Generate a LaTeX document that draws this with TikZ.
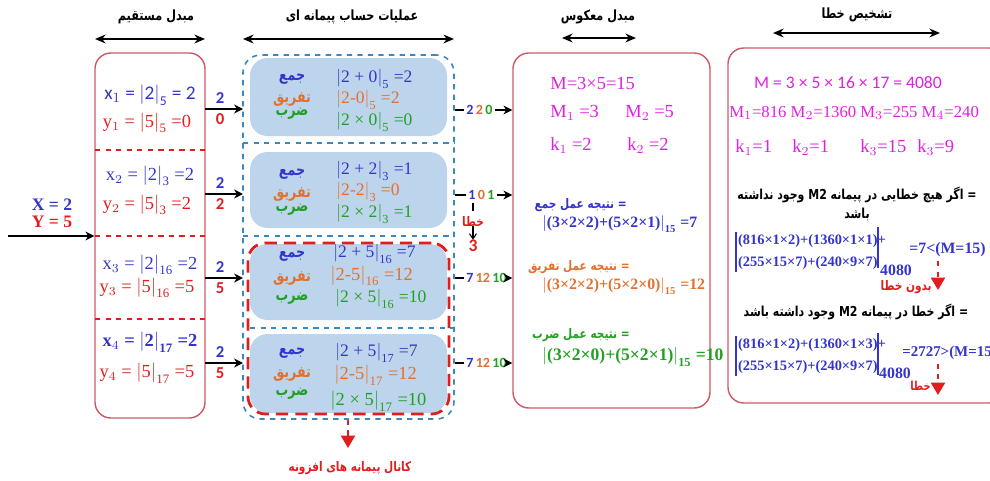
\documentclass[tikz,border=0pt]{standalone}
\usepackage{fontspec}
\usepackage{amsmath}
\setmainfont{Liberation Serif}
\newfontfamily\arf[Script=Arabic,FakeStretch=0.8]{DejaVu Sans}
\newfontfamily\cbr{Carlito}
\TeXXeTstate=1
\usetikzlibrary{arrows.meta,fit}
\definecolor{cblue}{HTML}{3434CC}
\definecolor{corange}{HTML}{E2702E}
\definecolor{cgreen}{HTML}{22A022}
\definecolor{cred}{HTML}{E01E1E}
\definecolor{cmag}{HTML}{E020E0}
\definecolor{boxred}{HTML}{CC5A66}
\definecolor{dblue}{HTML}{3A88C0}
\definecolor{lblue}{HTML}{BCD4EC}
\newcommand{\ab}[2]{$\left|\text{#1}\right|_{\text{#2}}$}
\begin{document}
\begin{tikzpicture}[x=0.02cm,y=-0.02cm,
  arr/.style={-{Stealth[length=5pt,width=5pt,inset=1.5pt]},line width=0.9pt},
  hdr/.style={{Stealth[length=6pt,width=5pt]}-{Stealth[length=6pt,width=5pt]},line width=1.1pt},
  bigbox/.style={draw=boxred,line width=0.8pt,rounded corners=9pt,inner sep=0pt},
  lbox/.style={fill=lblue,rounded corners=10pt,inner sep=0pt},
  sep/.style={cred,dashed,line width=0.8pt},
  bsep/.style={dblue,dashed,line width=0.9pt},
  hdrtxt/.style={font=\arf\bfseries\fontsize{8}{10}\selectfont},
  arlab/.style={font=\arf\bfseries\fontsize{9}{10}\selectfont},
  eqm/.style={font=\fontsize{10}{11}\selectfont,anchor=west,inner sep=0pt},
  lt/.style={font=\fontsize{10.5}{12}\selectfont,inner sep=0pt},
  num/.style={font=\cbr\bfseries\fontsize{9.5}{10}\selectfont,inner sep=1pt},
  onum/.style={font=\cbr\bfseries\fontsize{8}{9}\selectfont,inner sep=0pt},
  mg/.style={font=\fontsize{10.5}{12}\selectfont,text=cmag,inner sep=0pt},
  res/.style={font=\bfseries\fontsize{9}{10}\selectfont,anchor=west,inner sep=0pt},
  reslab/.style={font=\arf\bfseries\fontsize{7.5}{9}\selectfont,anchor=east,inner sep=0pt},
  cond/.style={font=\arf\bfseries\fontsize{7.8}{9}\selectfont,inner sep=0pt},
  errar/.style={cred,dashed,line width=1.1pt,-{Triangle[length=7pt,width=8pt]}},
  mat/.style={font=\bfseries\fontsize{8.2}{13}\selectfont,align=left,anchor=west,inner sep=1pt,text=cblue}
]
\useasboundingbox (0,0) rectangle (990,480);

% ---------- headers ----------
\node[hdrtxt] (h1) at (156,17) {\beginR مبدل مستقیم\endR};
\node[hdrtxt] (h2) at (352,17) {\beginR عملیات حساب پیمانه ای\endR};
\node[hdrtxt] (h3) at (598,17) {\beginR مبدل معکوس\endR};
\node[hdrtxt] (h4) at (857,15) {\beginR تشخیص خطا\endR};
\coordinate (h1a) at (95,39);  \coordinate (h1b) at (205,39);
\coordinate (h2a) at (243,39); \coordinate (h2b) at (454,39);
\coordinate (h3a) at (562,38); \coordinate (h3b) at (636,38);
\coordinate (h4a) at (773,33); \coordinate (h4b) at (940,33);
\draw[hdr] (h1a) -- (h1b);
\draw[hdr] (h2a) -- (h2b);
\draw[hdr] (h3a) -- (h3b);
\draw[hdr] (h4a) -- (h4b);

% ---------- input ----------
\node[font=\bfseries\fontsize{10}{11}\selectfont,text=cblue,inner sep=0pt] (X) at (52,205) {X = 2};
\node[font=\bfseries\fontsize{10}{11}\selectfont,text=cred,inner sep=0pt] (Y) at (52,222) {Y = 5};

% ---------- forward converter ----------
\node[bigbox,fit={(95,53) (205,418)}] (LB) {};
\coordinate (in0) at (8,236);
\draw[arr,line width=1.3pt] (in0) -- (LB.west |- in0);
\draw[sep] (95,150) -- (205,150);
\draw[sep] (95,236) -- (205,236);
\draw[sep] (95,319) -- (205,319);

\node[lt,text=cblue,font=\cbr\fontsize{11}{12}\selectfont] (x1) at (150,95) {x$_1$ = \ab{2}{5} = 2};
\node[lt,text=cred] (y1) at (147,123) {y$_1$ = \ab{5}{5} =0};
\node[lt,text=cblue] (x2) at (150,176) {x$_2$ = \ab{2}{3} =2};
\node[lt,text=cred] (y2) at (147,205) {y$_2$ = \ab{5}{3} =2};
\node[lt,text=cblue] (x3) at (150,265) {x$_3$ = \ab{2}{16} =2};
\node[lt,text=cred] (y3) at (147,288) {y$_3$ = \ab{5}{16} =5};
\node[lt,text=cblue,font=\bfseries\fontsize{10.5}{12}\selectfont] (x4) at (150,342) {x$_4$ = \ab{2}{17} =2};
\node[lt,text=cred] (y4) at (147,373) {y$_4$ = \ab{5}{17} =5};

% ---------- modular arithmetic ----------
\node[lbox,fit={(250,58) (447,136)}] (r1) {};
\node[lbox,fit={(250,152) (447,228)}] (r2) {};
\node[lbox,fit={(250,244) (447,320)}] (r3) {};
\node[lbox,fit={(250,334) (447,413)}] (r4) {};
\node[draw=dblue,dashed,line width=0.9pt,rounded corners=10pt,inner sep=0pt,fit={(243,55) (454,419)}] (MB) {};
\draw[bsep] (243,143) -- (454,143);
\draw[bsep] (243,236) -- (454,236);
\draw[bsep] (250,328) -- (454,328);
\node[draw=cred,dashed,dash pattern=on 7pt off 4pt,line width=1.6pt,rounded corners=10pt,inner sep=0pt,fit={(248,243) (449,414)}] (RB) {};

% row labels
\foreach \r/\ya/\yb/\yc in {1/79/99/114, 2/174/194/210, 3/256/278/299, 4/353/374/394}{
  \node[arlab,text=cblue] (add\r) at (292,\ya) {\beginR جمع\endR};
  \node[arlab,text=corange] (sub\r) at (292,\yb) {\beginR تفریق\endR};
  \node[arlab,text=cgreen] (mul\r) at (292,\yc) {\beginR ضرب\endR};
}
% row equations
\node[eqm,text=cblue] (e1a) at (336,79) {\ab{2 + 0}{5} =2};
\node[eqm,text=corange] (e1b) at (336,100) {\ab{2-0}{5} =2};
\node[eqm,text=cgreen] (e1c) at (336,122) {\ab{2 × 0}{5} =0};
\node[eqm,text=cblue] (e2a) at (336,171) {\ab{2 + 2}{3} =1};
\node[eqm,text=corange] (e2b) at (336,192) {\ab{2-2}{3} =0};
\node[eqm,text=cgreen] (e2c) at (336,214) {\ab{2 × 2}{3} =1};
\node[eqm,text=cblue] (e3a) at (333,254) {\ab{2 + 5}{16} =7};
\node[eqm,text=corange,font=\fontsize{10.5}{12}\selectfont] (e3b) at (330,276) {\ab{2-5}{16} =12};
\node[eqm,text=cgreen] (e3c) at (335,299) {\ab{2 × 5}{16} =10};
\node[eqm,text=cblue] (e4a) at (335,353) {\ab{2 + 5}{17} =7};
\node[eqm,text=corange,font=\fontsize{10.5}{12}\selectfont] (e4b) at (334,375) {\ab{2-5}{17} =12};
\node[eqm,text=cgreen,font=\fontsize{10.5}{12}\selectfont] (e4c) at (330,401) {\ab{2 × 5}{17} =10};

% left -> middle connectors
\foreach \r/\y/\b in {1/109/0, 2/194/2, 3/278/5, 4/363/5}{
  \coordinate (lo\r) at (205,\y);
  \coordinate (mi\r) at (243,\y);
  \draw[arr] (lo\r) -- (mi\r);
  \node[num,text=cblue] (pa\r) at (220,\y-11) {2};
  \node[num,text=cred] (pb\r) at (220,\y+10) {\b};
}

% ---------- inverse converter ----------
\node[bigbox,fit={(513,53) (710,408)}] (IB) {};
\node[bigbox,fit={(728,48) (1005,403)}] (DB) {};

% middle -> inverse connectors
\node[onum,anchor=west] (o1) at (466,110) {\textcolor{cblue}{2}\,\textcolor{corange}{2}\,\textcolor{cgreen}{0}};
\node[onum,anchor=west] (o2) at (468,195) {\textcolor{cblue}{1}\,\textcolor{corange}{0}\,\textcolor{cgreen}{1}};
\node[onum,anchor=west] (o3) at (466,278) {\textcolor{cblue}{7}\,\textcolor{corange}{12}\,\textcolor{cgreen}{10}};
\node[onum,anchor=west] (o4) at (466,363) {\textcolor{cblue}{7}\,\textcolor{corange}{12}\,\textcolor{cgreen}{10}};
\foreach \r in {1,2,3,4}{
  \draw[line width=0.9pt] (MB.east |- o\r) -- ([xshift=-1pt]o\r.west);
  \draw[arr] ([xshift=1pt]o\r.east) -- (IB.west |- o\r);
}
% error branch
\node[font=\arf\bfseries\fontsize{7.5}{8}\selectfont,text=cred,inner sep=0pt] (err) at (473,221) {\beginR خطا\endR};
\node[font=\cbr\bfseries\fontsize{10}{11}\selectfont,text=cred,inner sep=0pt] (three) at (473,246) {3};
\coordinate (eb) at (473,203);
\draw[line width=0.6pt] (eb) -- (473,211);
\draw[line width=0.6pt,-{Straight Barb[length=3pt,width=4pt]}] (err.south) -- (three.north);

% redundant channel
\coordinate (rc) at (348,448);
\draw[errar] (MB.south -| rc) -- (rc);
\node[font=\arf\bfseries\fontsize{7.5}{9}\selectfont,text=cred] (rct) at (350,468) {\beginR کانال پیمانه های افزونه\endR};

% inverse converter contents
\node[mg,anchor=west] (m0) at (550,83) {M=3×5=15};
\node[mg,anchor=west] (m1) at (550,113) {M$_1$ =3};
\node[mg,anchor=west] (m2) at (625,113) {M$_2$ =5};
\node[mg,anchor=west] (k1) at (550,146) {k$_1$ =2};
\node[mg,anchor=west] (k2) at (627,146) {k$_2$ =2};

\node[reslab,text=cblue] (l1) at (627,205) {\beginR = نتیجه عمل جمع\endR};
\node[res,text=cblue] (q1) at (542,224) {\ab{(3×2×2)+(5×2×1)}{15} =7};
\node[reslab,text=corange] (l2) at (630,267) {\beginR = نتیجه عمل تفریق\endR};
\node[res,text=corange] (q2) at (542,286) {\ab{(3×2×2)+(5×2×0)}{15} =12};
\node[reslab,text=cgreen] (l3) at (630,335) {\beginR = نتیجه عمل ضرب\endR};
\node[res,text=cgreen,font=\bfseries\fontsize{10}{11}\selectfont] (q3) at (542,357) {\ab{(3×2×0)+(5×2×1)}{15} =10};

% ---------- error detection ----------
\node[font=\cbr\fontsize{10}{12}\selectfont,text=cmag] (d0) at (848,83) {M = 3 × 5 × 16 × 17 = 4080};
\node[mg,anchor=west,font=\fontsize{9.5}{11}\selectfont] (d1) at (729,113) {M$_1$=816 M$_2$=1360 M$_3$=255 M$_4$=240};
\node[mg,anchor=west] (dk1) at (735,148) {k$_1$=1};
\node[mg,anchor=west] (dk2) at (792,148) {k$_2$=1};
\node[mg,anchor=west] (dk3) at (860,148) {k$_3$=15};
\node[mg,anchor=west] (dk4) at (917,148) {k$_3$=9};

\node[cond] (c1) at (857,195) {\beginR = اگر هیچ خطایی در پیمانه \beginL M2\endL{} وجود نداشته\endR};
\node[cond] (c1b) at (857,214) {\beginR باشد\endR};

\node[mat] (mx1) at (736,252) {(816×1×2)+(1360×1×1)+\\(255×15×7)+(240×9×7)};
\draw[cblue,line width=0.8pt] (mx1.north west) -- (mx1.south west);
\draw[cblue,line width=0.8pt] (878,227) -- (878,268);
\node[font=\bfseries\fontsize{9}{10}\selectfont,text=cblue,inner sep=0pt] (s1) at (896,270) {4080};
\node[font=\bfseries\fontsize{9}{10}\selectfont,text=cblue,anchor=west,inner sep=0pt] (v1) at (909,250) {=7<(M=15)};
\coordinate (a1) at (938,290);
\draw[errar] ([yshift=-2pt]v1.south -| a1) -- (a1);
\node[font=\arf\bfseries\fontsize{7.5}{9}\selectfont,text=cred,anchor=east,inner sep=0pt] (ok) at (932,287) {\beginR بدون خطا\endR};

\node[cond] (c2) at (856,312) {\beginR = اگر خطا در پیمانه \beginL M2\endL{} وجود داشته باشد\endR};

\node[mat] (mx2) at (736,356) {(816×1×2)+(1360×1×3)+\\(255×15×7)+(240×9×7)};
\draw[cblue,line width=0.8pt] (mx2.north west) -- (mx2.south west);
\draw[cblue,line width=0.8pt] (878,333) -- (878,375);
\node[font=\bfseries\fontsize{9}{10}\selectfont,text=cblue,inner sep=0pt] (s2) at (895,373) {4080};
\node[font=\bfseries\fontsize{8.5}{10}\selectfont,text=cblue,anchor=west,inner sep=0pt] (v2) at (902,353) {=2727>(M=15)};
\coordinate (a2) at (938,395);
\draw[errar] ([yshift=-2pt]v2.south -| a2) -- (a2);
\node[font=\arf\bfseries\fontsize{7}{9}\selectfont,text=cred,anchor=east,inner sep=0pt] (bad) at (931,386) {\beginR خطا\endR};
\end{tikzpicture}
\end{document}
